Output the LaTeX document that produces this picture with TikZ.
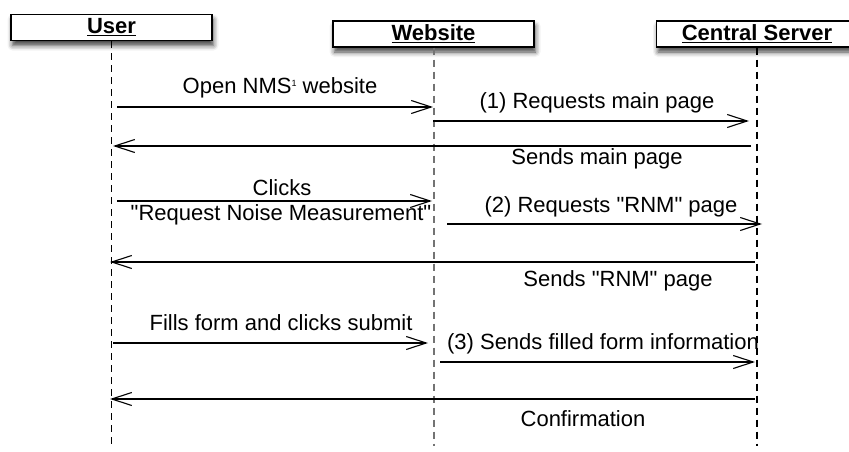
\documentclass[tikz,border=0pt]{standalone}
\usepackage{fontspec}
\setmainfont{Liberation Sans}[Ligatures=TeXOff]
\usetikzlibrary{arrows.meta,shadows.blur}

\tikzset{
  actor/.style={draw=black, line width=1.3pt, fill=white,
    minimum width=201pt, minimum height=26pt, inner sep=0pt,
    text height=15.5pt, text depth=3pt,
    blur shadow={shadow xshift=1.5pt, shadow yshift=-5pt,
      shadow blur radius=5pt, shadow opacity=75}},
  lifeline/.style={line width=1.1pt, dash pattern=on 7pt off 5pt},
  lifelinegray/.style={lifeline, draw=black!55, line width=2pt},
  msg/.style={line width=1.1pt, -{Straight Barb[length=20pt,width=13pt]}},
  lbl/.style={anchor=base, inner sep=0pt},
}
\newcommand{\supone}{\raisebox{7pt}{\fontsize{9}{9}\selectfont 1}}

\begin{document}
\begin{tikzpicture}[x=1pt, y=-1pt, font=\fontsize{22}{26}\selectfont]
  \clip (0,0) rectangle (849,452);
  \useasboundingbox (0,0) rectangle (849,452);

  % participants
  \node[actor] (user) at (111.5,27.5) {\underline{\textbf{User}}};
  \node[actor] (web)  at (433.5,34)   {\underline{\textbf{Website}}};
  \node[actor] (srv)  at (757,34)     {\underline{\textbf{Central Server}}};

  % lifelines
  \coordinate (userEnd) at (111.5,446);
  \coordinate (webEnd)  at (433.5,446);
  \coordinate (srvEnd)  at (757,446);
  \draw[lifeline]     (user.south) -- (userEnd);
  \draw[lifelinegray] (web.south)  -- (webEnd);
  \draw[lifeline]     (srv.south)  -- (srvEnd);

  % message end points
  \coordinate (m1s) at (117,107);  \coordinate (m1e) at (433,107);
  \coordinate (m2s) at (433,121);  \coordinate (m2e) at (749,121);
  \coordinate (m3s) at (751,146);  \coordinate (m3e) at (113,146);
  \coordinate (m4s) at (117,201);  \coordinate (m4e) at (432,201);
  \coordinate (m5s) at (447,224);  \coordinate (m5e) at (762,224);
  \coordinate (m6s) at (755,262);  \coordinate (m6e) at (110,262);
  \coordinate (m7s) at (113,343);  \coordinate (m7e) at (428,343);
  \coordinate (m8s) at (440,362);  \coordinate (m8e) at (755,362);
  \coordinate (m9s) at (755,399);  \coordinate (m9e) at (110,399);

  % messages
  \draw[msg] (m1s) -- (m1e);
  \draw[msg] (m2s) -- (m2e);
  \draw[msg] (m3s) -- (m3e);
  \draw[msg] (m4s) -- (m4e);
  \draw[msg] (m5s) -- (m5e);
  \draw[msg] (m6s) -- (m6e);
  \draw[msg] (m7s) -- (m7e);
  \draw[msg] (m8s) -- (m8e);
  \draw[msg] (m9s) -- (m9e);

  % message labels
  \node[lbl] (l1)  at (280,93)  {Open NMS\supone{} website};
  \node[lbl] (l2)  at (597,108) {(1) Requests main page};
  \node[lbl] (l3)  at (597,164) {Sends main page};
  \node[lbl] (l4a) at (282,195) {Clicks};
  \node[lbl] (l4b) at (281,220) {"Request Noise Measurement"};
  \node[lbl] (l5)  at (611,212) {(2) Requests "RNM" page};
  \node[lbl] (l6)  at (618,286) {Sends "RNM" page};
  \node[lbl] (l7)  at (281,330) {Fills form and clicks submit};
  \node[lbl] (l8)  at (603,349) {(3) Sends filled form information};
  \node[lbl] (l9)  at (583,426) {Confirmation};
\end{tikzpicture}
\end{document}
